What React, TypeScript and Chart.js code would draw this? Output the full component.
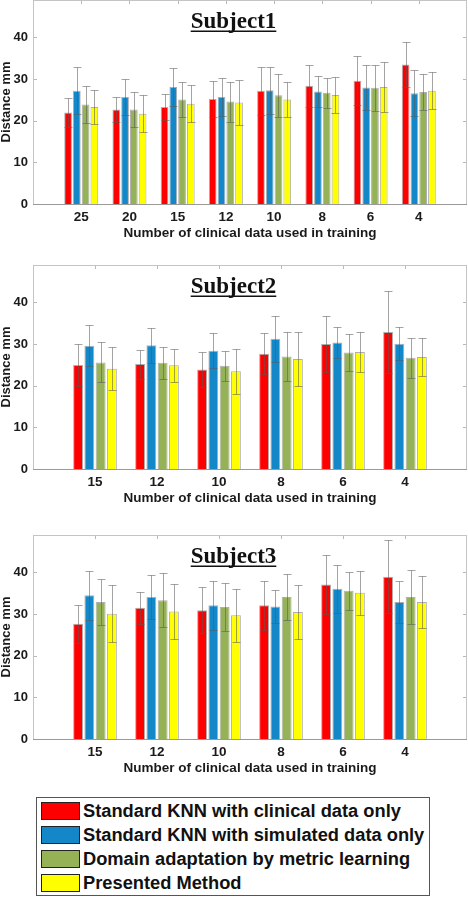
import React, { useEffect, useRef } from 'react';
import { Chart, registerables } from 'chart.js';
Chart.register(...registerables);

const seriesLabels = [
  'Standard KNN with clinical data only',
  'Standard KNN with simulated data only',
  'Domain adaptation by metric learning',
  'Presented Method',
];
const seriesColors = ['#ff0000', '#1387c7', '#95b257', '#ffff00'];

const xAxisTitle = 'Number of clinical data used in training';
const yAxisTitle = 'Distance mm';
const yTickValues = [0, 10, 20, 30, 40];

// Subject 1
const subject1Categories = ['25', '20', '15', '12', '10', '8', '6', '4'];
const subject1Clinical = [22.0, 22.7, 23.3, 25.2, 27.2, 28.4, 29.6, 33.5];
const subject1ClinicalErr = [3.5, 3.1, 3.2, 4.3, 5.8, 5.0, 5.9, 5.5];
const subject1Simulated = [27.2, 25.7, 28.1, 25.7, 27.3, 27.0, 28.0, 26.6];
const subject1SimulatedErr = [5.6, 4.3, 4.6, 4.5, 5.6, 3.8, 5.5, 5.5];
const subject1Domain = [23.9, 22.7, 25.1, 24.6, 26.1, 26.7, 27.9, 26.9];
const subject1DomainErr = [4.4, 4.3, 4.2, 4.8, 5.2, 3.6, 5.5, 4.4];
const subject1Presented = [23.3, 21.7, 24.1, 24.4, 25.1, 26.2, 28.1, 27.2];
const subject1PresentedErr = [4.1, 4.4, 4.5, 5.5, 4.3, 4.3, 5.9, 4.4];

// Subject 2
const subject2Categories = ['15', '12', '10', '8', '6', '4'];
const subject2Clinical = [25.0, 25.2, 23.9, 27.7, 30.0, 32.9];
const subject2ClinicalErr = [5.1, 3.5, 4.2, 4.9, 6.7, 9.9];
const subject2Simulated = [29.6, 29.7, 28.4, 31.3, 30.4, 30.1];
const subject2SimulatedErr = [4.9, 4.2, 4.2, 5.5, 3.8, 4.0];
const subject2Domain = [25.6, 25.5, 24.8, 27.0, 28.0, 26.7];
const subject2DomainErr = [4.8, 3.9, 3.6, 5.9, 4.4, 4.8];
const subject2Presented = [24.1, 24.9, 23.5, 26.4, 28.1, 26.9];
const subject2PresentedErr = [5.2, 3.9, 5.4, 6.4, 4.7, 4.6];

// Subject 3
const subject3Categories = ['15', '12', '10', '8', '6', '4'];
const subject3Clinical = [27.7, 31.5, 30.9, 32.1, 37.1, 39.0];
const subject3ClinicalErr = [4.6, 3.9, 5.5, 5.9, 7.0, 8.8];
const subject3Simulated = [34.5, 34.1, 32.1, 31.8, 36.1, 32.9];
const subject3SimulatedErr = [5.9, 5.2, 5.9, 4.0, 5.8, 5.1];
const subject3Domain = [32.9, 33.3, 31.7, 34.1, 35.6, 34.1];
const subject3DomainErr = [5.6, 6.5, 5.8, 5.5, 4.6, 6.4];
const subject3Presented = [30.1, 30.6, 29.7, 30.5, 35.1, 32.9];
const subject3PresentedErr = [6.9, 6.7, 6.4, 6.4, 5.3, 6.3];

Chart.defaults.font.family = '"Liberation Sans", Arial, sans-serif';

const errorBarPlugin = {
  id: 'errorBars',
  afterDatasetsDraw(chart: any) {
    const { ctx } = chart;
    const y = chart.scales.y;
    ctx.save();
    ctx.strokeStyle = 'rgba(90,90,90,0.55)';
    ctx.lineWidth = 1;
    chart.data.datasets.forEach((ds: any, di: number) => {
      const meta = chart.getDatasetMeta(di);
      meta.data.forEach((bar: any, i: number) => {
        const v = ds.data[i];
        const e = ds.errors ? ds.errors[i] : null;
        if (v == null || e == null) return;
        const x = Math.round(bar.x) + 0.5;
        const yt = Math.round(y.getPixelForValue(v + e)) + 0.5;
        const yb = Math.round(y.getPixelForValue(v - e)) + 0.5;
        const cap = 4;
        ctx.beginPath();
        ctx.moveTo(x, yt);
        ctx.lineTo(x, yb);
        ctx.moveTo(x - cap, yt);
        ctx.lineTo(x + cap, yt);
        ctx.moveTo(x - cap, yb);
        ctx.lineTo(x + cap, yb);
        ctx.stroke();
      });
    });
    ctx.restore();
  },
};

const axesBoxPlugin = {
  id: 'axesBox',
  afterDraw(chart: any, _args: any, opts: any) {
    const { ctx, chartArea } = chart;
    const { left, right, top, bottom } = chartArea;
    const x = chart.scales.x;
    const y = chart.scales.y;
    ctx.save();
    ctx.lineWidth = 1;
    ctx.strokeStyle = '#b8b8b8';
    ctx.beginPath();
    yTickValues.forEach((v) => {
      const py = Math.round(y.getPixelForValue(v)) + 0.5;
      ctx.moveTo(left, py);
      ctx.lineTo(left + 4, py);
      ctx.moveTo(right - 4, py);
      ctx.lineTo(right, py);
    });
    for (let i = 1; i < x.ticks.length - 1; i++) {
      const px = Math.round(x.getPixelForTick(i)) + 0.5;
      ctx.moveTo(px, top);
      ctx.lineTo(px, top + 4);
    }
    ctx.stroke();
    ctx.strokeStyle = '#c4c4c4';
    ctx.strokeRect(left + 0.5, top + 0.5, right - left - 1, bottom - top);
    ctx.strokeStyle = '#999999';
    ctx.beginPath();
    ctx.moveTo(left, Math.round(bottom) + 0.5);
    ctx.lineTo(right, Math.round(bottom) + 0.5);
    ctx.stroke();

    if (opts && opts.text) {
      ctx.font = 'bold 23px "Liberation Serif", "Times New Roman", serif';
      ctx.fillStyle = '#111';
      ctx.textAlign = 'center';
      ctx.textBaseline = 'alphabetic';
      const cx = left + 200.5;
      const by = top + 28;
      ctx.fillText(opts.text, cx, by);
      const w = ctx.measureText(opts.text).width;
      ctx.fillRect(cx - w / 2, by + 2.5, w, 1.5);
    }
    ctx.restore();
  },
};

type PanelProps = {
  top: number;
  height: number;
  padTop: number;
  title: string;
  categories: string[];
  values: number[][];
  errors: number[][];
};

function Panel({ top, height, padTop, title, categories, values, errors }: PanelProps) {
  const ref = useRef<HTMLCanvasElement | null>(null);
  useEffect(() => {
    if (!ref.current) return;
    const labels = ['', ...categories, ''];
    const chart = new Chart(ref.current, {
      type: 'bar',
      data: {
        labels,
        datasets: values.map((vals, si) => ({
          label: seriesLabels[si],
          data: [null, ...vals, null],
          errors: [null, ...errors[si], null],
          backgroundColor: seriesColors[si],
          borderColor: 'rgba(110,110,110,0.55)',
          borderWidth: 1,
          categoryPercentage: 0.727,
          barPercentage: 0.88,
        })) as any,
      },
      options: {
        responsive: false,
        animation: false,
        events: [],
        layout: { padding: { top: padTop, right: 1, left: 0, bottom: 0 } },
        plugins: {
          legend: { display: false },
          tooltip: { enabled: false },
          axesBox: { text: title },
        } as any,
        scales: {
          x: {
            type: 'category',
            offset: false,
            grid: { display: false, drawTicks: false },
            border: { display: false },
            ticks: {
              autoSkip: false,
              maxRotation: 0,
              padding: 5,
              color: '#1a1a1a',
              font: { size: 13.5, weight: 'bold' },
            },
            title: {
              display: true,
              text: xAxisTitle,
              color: '#1a1a1a',
              font: { size: 13.5, weight: 'bold' },
              padding: { top: 0, bottom: 4 },
            },
            afterFit(scale: any) {
              scale.height = 41;
              scale.paddingLeft = 0;
              scale.paddingRight = 0;
            },
          },
          y: {
            min: 0,
            max: 49,
            grid: { display: false, drawTicks: false },
            border: { display: false },
            ticks: {
              stepSize: 10,
              padding: 5,
              color: '#1a1a1a',
              font: { size: 13, weight: 'bold' },
            },
            afterBuildTicks(scale: any) {
              scale.ticks = scale.ticks.filter((t: any) => yTickValues.includes(t.value));
            },
            title: {
              display: true,
              text: yAxisTitle,
              color: '#1a1a1a',
              font: { size: 13, weight: 'bold', lineHeight: 0.923 },
              padding: 0,
            },
            afterFit(scale: any) {
              scale.width = 33;
              scale.paddingTop = 0;
              scale.paddingBottom = 0;
            },
          },
        },
      } as any,
      plugins: [errorBarPlugin, axesBoxPlugin],
    });
    return () => chart.destroy();
  }, []);
  return (
    <canvas
      ref={ref}
      width={468}
      height={height}
      style={{ position: 'absolute', left: 0, top, width: 468, height }}
    />
  );
}

export default function App() {
  return (
    <div style={{ position: 'absolute', left: 0, top: 0, width: 468, height: 900, background: '#fff' }}>
      <Panel
        top={0}
        height={245}
        padTop={0}
        title="Subject1"
        categories={subject1Categories}
        values={[subject1Clinical, subject1Simulated, subject1Domain, subject1Presented]}
        errors={[subject1ClinicalErr, subject1SimulatedErr, subject1DomainErr, subject1PresentedErr]}
      />
      <Panel
        top={245}
        height={265}
        padTop={20}
        title="Subject2"
        categories={subject2Categories}
        values={[subject2Clinical, subject2Simulated, subject2Domain, subject2Presented]}
        errors={[subject2ClinicalErr, subject2SimulatedErr, subject2DomainErr, subject2PresentedErr]}
      />
      <Panel
        top={510}
        height={270}
        padTop={25}
        title="Subject3"
        categories={subject3Categories}
        values={[subject3Clinical, subject3Simulated, subject3Domain, subject3Presented]}
        errors={[subject3ClinicalErr, subject3SimulatedErr, subject3DomainErr, subject3PresentedErr]}
      />
      <div
        style={{
          position: 'absolute',
          left: 36,
          top: 797,
          width: 394,
          height: 99,
          boxSizing: 'border-box',
          border: '1px solid #555',
          background: '#fff',
          paddingTop: 1,
          paddingLeft: 4,
        }}
      >
        {seriesLabels.map((label, i) => (
          <div key={label} style={{ display: 'flex', alignItems: 'center', height: 24 }}>
            <span
              style={{
                display: 'inline-block',
                width: 39,
                height: 18,
                boxSizing: 'border-box',
                border: '1.5px solid #222',
                background: seriesColors[i],
                marginRight: 3,
                flex: '0 0 auto',
              }}
            />
            <span
              style={{
                fontFamily: '"Liberation Sans", Arial, sans-serif',
                fontWeight: 'bold',
                fontSize: 18.3,
                lineHeight: '24px',
                color: '#111',
                whiteSpace: 'nowrap',
              }}
            >
              {label}
            </span>
          </div>
        ))}
      </div>
    </div>
  );
}
